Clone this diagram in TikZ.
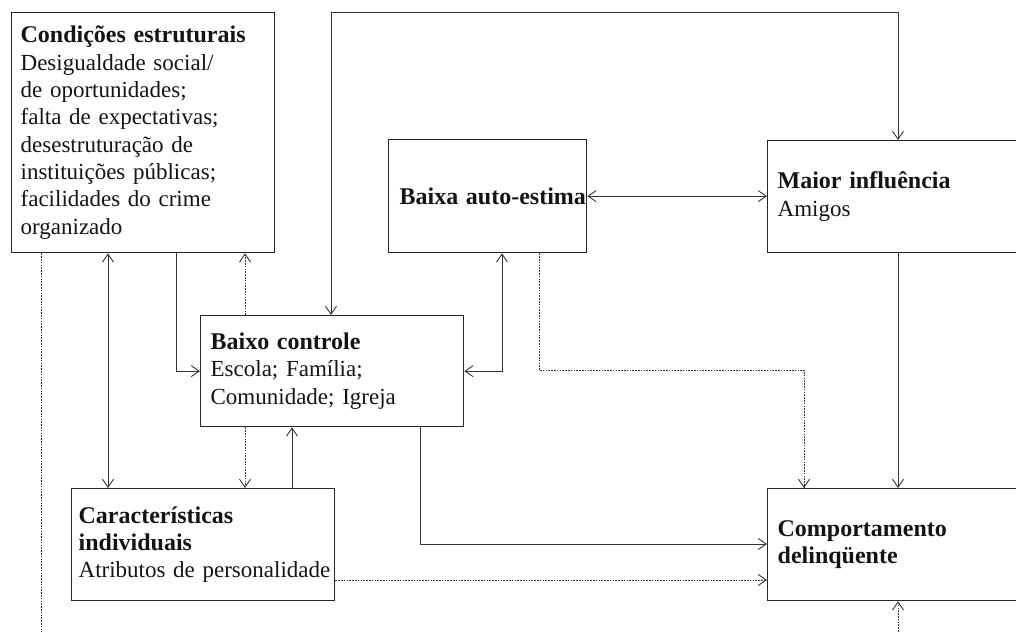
\documentclass[tikz,border=0pt]{standalone}
\usepackage{fontspec}
\setmainfont{Liberation Serif}
\usetikzlibrary{arrows.meta,calc}
\newcommand\hd[1]{{\fontsize{24}{27.3}\selectfont\bfseries #1}}
\begin{document}
\begin{tikzpicture}[x=1pt,y=-1pt,
  every node/.style={font=\fontsize{23}{27.3}\selectfont, text=black!92},
  box/.style={draw=black!85, line width=1.3pt, anchor=north west, inner xsep=10pt, inner ysep=0pt, align=left, text width=243pt, minimum height=112pt},
  conn/.style={draw=black!80, line width=0.9pt},
  dot/.style={conn, dash pattern=on 1.6pt off 1.2pt},
  tipend/.style={-{Straight Barb[length=8pt,width=11pt,line width=0.9pt]}},
  tipboth/.style={{Straight Barb[length=8pt,width=11pt,line width=0.9pt]}-{Straight Barb[length=8pt,width=11pt,line width=0.9pt]}}
]
\useasboundingbox (0,0) rectangle (1016,631);
\clip (0,0) rectangle (1016,631);

% boxes
\node[box, minimum height=240pt, inner xsep=9pt, text width=245pt] (cond) at (11,12)
  {\hd{Condições estruturais}\\Desigualdade social/\\de oportunidades;\\falta de expectativas;\\desestruturação de\\instituições públicas;\\facilidades do crime\\organizado};
\node[box, minimum height=113pt, inner xsep=11pt, text width=176pt] (baixa) at (388,139) {\mbox{\hd{Baixa auto-estima}}};
\node[box] (maior) at (767,140) {\hd{Maior influência}\\Amigos};
\node[box, minimum height=111pt] (baixo) at (200,315) {\hd{Baixo controle}\\Escola; Família;\\Comunidade; Igreja};
\node[box, inner xsep=7pt, text width=249pt] (car) at (71,488) {\hd{Características}\\\hd{individuais}\\\mbox{Atributos de personalidade}};
\node[box] (comp) at (767,488) {\hd{Comportamento}\\\hd{delinqüente}};

% guide coordinates
\coordinate (cA) at (41,0);
\coordinate (cB) at (108,0);
\coordinate (cC) at (176,0);
\coordinate (cD) at (245,0);
\coordinate (cE) at (292,0);
\coordinate (cF) at (331,0);
\coordinate (cG) at (420,0);
\coordinate (cH) at (502,0);
\coordinate (cI) at (539,0);
\coordinate (cJ) at (804,0);
\coordinate (cK) at (898,0);
\coordinate (rTop) at (0,12);
\coordinate (rMid) at (0,370);
\coordinate (rLow) at (0,544);
\coordinate (rDot) at (0,580);
\coordinate (rBot) at (0,640);

% connectors
\draw[conn, tipboth] (baixo.north -| cF) -- (cF |- rTop) -- (cK |- rTop) -- (maior.north -| cK);
\draw[conn, tipboth] (baixa.east) -- (baixa.east -| maior.west);
\draw[conn, tipboth] (cond.south -| cB) -- (car.north -| cB);
\draw[conn, tipend] (cond.south -| cC) |- (baixo.west);
\draw[dot, tipend] (baixo.north -| cD) -- (cond.south -| cD);
\draw[dot, tipend] (baixo.south -| cD) -- (car.north -| cD);
\draw[conn, tipend] (car.north -| cE) -- (baixo.south -| cE);
\draw[conn, tipboth] (baixo.east) -| (baixa.south -| cH);
\draw[dot, tipend] (baixa.south -| cI) -- (cI |- rMid) -- (cJ |- rMid) -- (comp.north -| cJ);
\draw[conn, tipend] (maior.south -| cK) -- (comp.north -| cK);
\draw[conn, tipend] (baixo.south -| cG) |- (comp.west |- rLow);
\draw[dot, tipend] (car.east |- rDot) -- (comp.west |- rDot);
\draw[dot] (cond.south -| cA) -- (cA |- rBot);
\draw[dot, tipend] (cK |- rBot) -- (comp.south -| cK);
\end{tikzpicture}
\end{document}
